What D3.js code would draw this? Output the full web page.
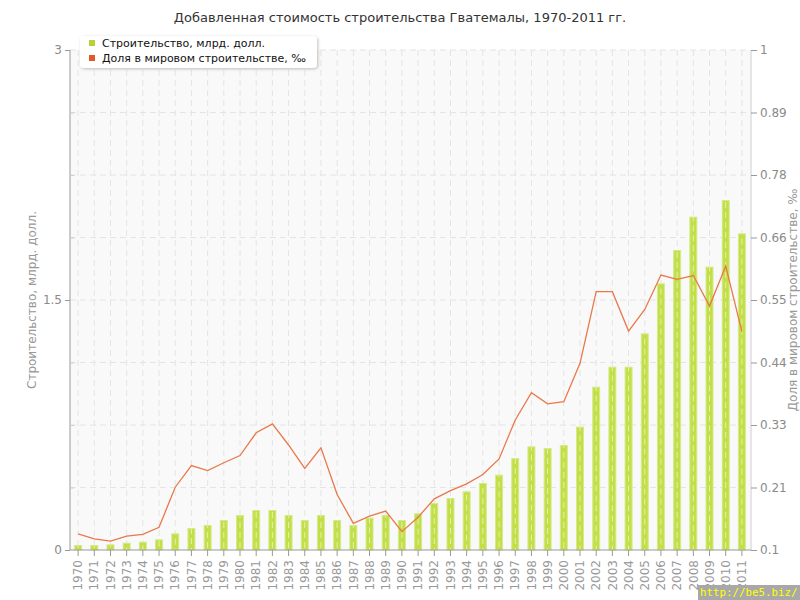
<!DOCTYPE html>
<html><head><meta charset="utf-8">
<script src="https://cdn.jsdelivr.net/npm/d3@7"></script>
<style>body{margin:0;background:#fff}svg{display:block;font-family:"DejaVu Sans",sans-serif}</style>
</head><body><svg id="c" width="800" height="600"></svg>
<script>
const years = ["1970","1971","1972","1973","1974","1975","1976","1977","1978","1979","1980","1981","1982","1983","1984","1985","1986","1987","1988","1989","1990","1991","1992","1993","1994","1995","1996","1997","1998","1999","2000","2001","2002","2003","2004","2005","2006","2007","2008","2009","2010","2011"];
const construction = [0.03,0.03,0.034,0.044,0.05,0.064,0.10,0.132,0.15,0.18,0.21,0.24,0.24,0.21,0.18,0.21,0.18,0.15,0.194,0.21,0.18,0.22,0.282,0.312,0.352,0.402,0.452,0.552,0.622,0.612,0.63,0.74,0.98,1.10,1.10,1.30,1.60,1.80,2.00,1.70,2.10,1.90];
const share = [0.129,0.12,0.116,0.125,0.128,0.141,0.213,0.252,0.243,0.257,0.27,0.311,0.327,0.289,0.247,0.284,0.200,0.148,0.161,0.170,0.133,0.159,0.192,0.207,0.219,0.236,0.264,0.334,0.383,0.363,0.367,0.436,0.565,0.565,0.494,0.533,0.595,0.587,0.594,0.539,0.611,0.493];
const leftTicks = [0,1.5,3];
const rightTickLabels = ["0.1","0.21","0.33","0.44","0.55","0.66","0.78","0.89","1"];
const title = "Добавленная стоимость строительства Гватемалы, 1970-2011 гг.";
const leftTitle = "Строительство, млрд. долл.";
const rightTitle = "Доля в мировом строительстве, ‰";
const legendLabels = ["Строительство, млрд. долл.","Доля в мировом строительстве, ‰"];

const svg = d3.select("#c");
const L=70, R=750, T=50, B=550;
const x = d3.scaleBand().domain(years).range([L,R]);
const yL = d3.scaleLinear().domain([0,3]).range([B,T]);
const yR = d3.scaleLinear().domain([0.1,1]).range([B,T]);
const cx = d => x(d)+x.bandwidth()/2;

svg.append("rect").attr("x",L).attr("y",T).attr("width",R-L).attr("height",B-T).attr("fill","#f9f9f9");

// grid
const gridVals = d3.range(0,9).map(i=>i*3/8);
svg.append("g").selectAll("line").data(gridVals.slice(1)).join("line")
  .attr("x1",L).attr("x2",R).attr("y1",d=>yL(d)).attr("y2",d=>yL(d))
  .attr("stroke","#e4e4e4").attr("stroke-dasharray","6,4");
svg.append("g").selectAll("line").data(years).join("line")
  .attr("x1",cx).attr("x2",cx).attr("y1",T).attr("y2",B)
  .attr("stroke","#e4e4e4").attr("stroke-dasharray","6,4");

// bars
const bw = 8;
svg.append("g").selectAll("rect").data(years).join("rect")
  .attr("x",d=>cx(d)-bw/2+0.5).attr("width",bw-1)
  .attr("y",(d,i)=>yL(construction[i])+0.5).attr("height",(d,i)=>B-yL(construction[i])-0.5)
  .attr("fill","#c3df48").attr("stroke","#d6ea8c").attr("stroke-width",1);
svg.append("g").selectAll("line").data(years).join("line")
  .attr("x1",cx).attr("x2",cx).attr("y1",(d,i)=>yL(construction[i])+1).attr("y2",B)
  .attr("stroke","#ffffff").attr("stroke-opacity",0.55).attr("stroke-dasharray","6,4")
  .attr("stroke-dashoffset",(d,i)=>-(yL(construction[i])+1-T)%10);

// line
svg.append("path").datum(share)
  .attr("d",d3.line().x((d,i)=>cx(years[i])).y(d=>yR(d)))
  .attr("fill","none").attr("stroke","#e8794b").attr("stroke-width",1.3);

// axes
const axisColor="#999", labColor="#8a8a8a";
const gL = svg.append("g").attr("transform",`translate(${L},0)`)
  .call(d3.axisLeft(yL).tickValues(leftTicks).tickSize(5).tickFormat(d3.format("")));
const gLm = svg.append("g").attr("transform",`translate(${L},0)`)
  .call(d3.axisRight(yL).tickValues(gridVals.filter(v=>!leftTicks.includes(v))).tickSize(4).tickFormat(""));
gLm.select(".domain").remove();
gLm.selectAll("line").attr("stroke","#ccc");
const gR = svg.append("g").attr("transform",`translate(${R+1},0)`)
  .call(d3.axisRight(yR).tickValues(d3.range(0,9).map(i=>0.1+i*0.9/8)).tickSize(6).tickFormat((d,i)=>rightTickLabels[i]));
const gB = svg.append("g").attr("transform",`translate(0,${B})`)
  .call(d3.axisBottom(x).tickSize(6).tickSizeOuter(0));
[gL,gR,gB].forEach(g=>{
  g.select(".domain").attr("stroke",axisColor);
  g.selectAll(".tick line").attr("stroke",axisColor);
  g.selectAll("text").attr("fill",labColor).attr("font-size",12).attr("font-family","DejaVu Sans");
});
gL.select(".domain").attr("d",`M0,${T}V${B}`);
gR.select(".domain").attr("d",`M0,${T}V${B}`).attr("stroke","#ccc");
gB.select(".domain").attr("d",`M${L},0H${R+1}`);
gL.selectAll("text").attr("x",-8);
gR.selectAll("text").attr("x",9);
gB.selectAll("text").attr("fill","#999").attr("transform","rotate(-90)").attr("text-anchor","end")
  .attr("x",-10).attr("y",0).attr("dy","0.35em");

// titles
svg.append("text").attr("x",400).attr("y",22).attr("text-anchor","middle")
  .attr("font-size",13).attr("fill","#333").text(title);
svg.append("text").attr("transform","translate(36,300) rotate(-90)").attr("text-anchor","middle")
  .attr("font-size",12).attr("fill","#999").text(leftTitle);
svg.append("text").attr("transform","translate(797,300) rotate(-90)").attr("text-anchor","middle")
  .attr("font-size",12).attr("fill","#999").text(rightTitle);

// legend
const defs = svg.append("defs");
const f = defs.append("filter").attr("id","sh").attr("x","-10%").attr("y","-30%").attr("width","120%").attr("height","160%");
f.append("feDropShadow").attr("dx",1).attr("dy",1).attr("stdDeviation",1.5).attr("flood-color","#000").attr("flood-opacity",0.25);
svg.append("rect").attr("x",80).attr("y",36).attr("width",237).attr("height",32).attr("rx",4)
  .attr("fill","#fff").attr("filter","url(#sh)");
const legColors=["#b5d334","#e05a28"];
legendLabels.forEach((t,i)=>{
  svg.append("rect").attr("x",89).attr("y",40+i*15).attr("width",6).attr("height",6).attr("fill",legColors[i]);
  svg.append("text").attr("x",102).attr("y",47+i*15).attr("font-size",11).attr("fill","#111").text(t);
});

// watermark
svg.append("rect").attr("x",698).attr("y",585).attr("width",102).attr("height",15).attr("fill","#a8a8a8");
svg.append("text").attr("x",700).attr("y",596).attr("font-family","DejaVu Sans Mono").attr("font-size",10.8)
  .attr("fill","#ffff00").text("http://be5.biz/");
</script></body></html>
